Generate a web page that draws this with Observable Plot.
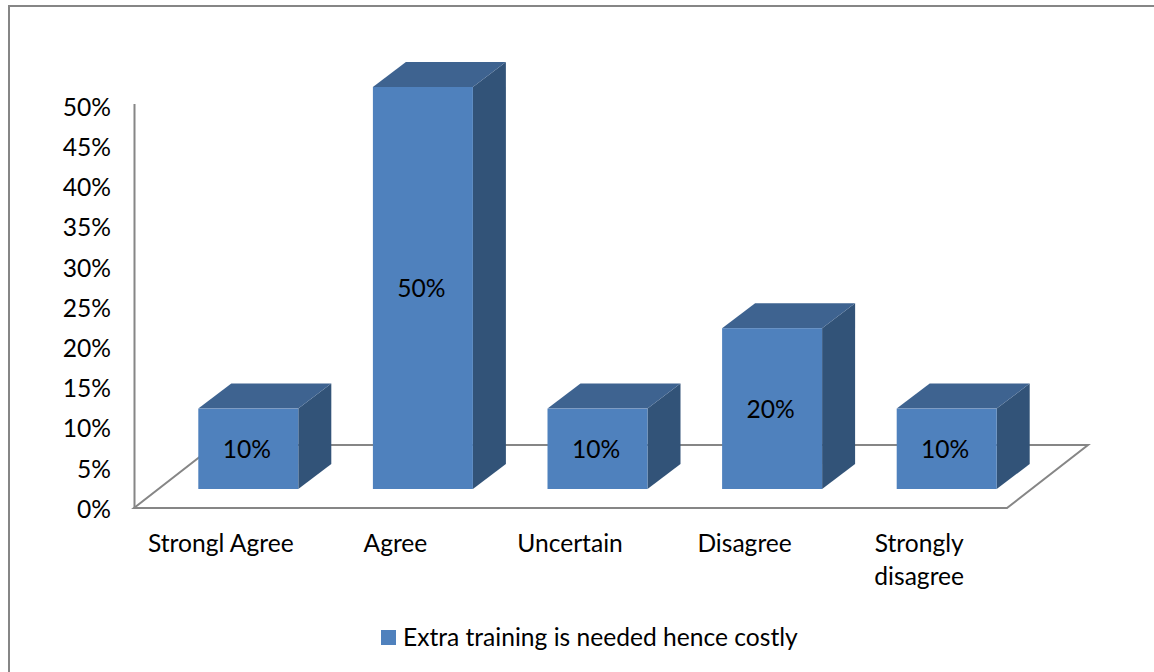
<!DOCTYPE html>
<html>
<head>
<meta charset="utf-8">
<script src="https://cdn.jsdelivr.net/npm/d3@7"></script>
<script src="https://cdn.jsdelivr.net/npm/@observablehq/plot@0.6"></script>
<style>
  html, body { margin: 0; padding: 0; background: #fff; overflow: hidden; }
  body { width: 1154px; height: 672px; position: relative; font-family: Lato, sans-serif; color: #000; }
  #frame { position: absolute; left: 8px; top: 5px; width: 1146px; height: 667px; border-left: 2px solid #868686; border-top: 2px solid #868686; box-sizing: border-box; pointer-events: none; }
  #legend { position: absolute; left: 381px; top: 614px; height: 44px; display: flex; align-items: center; font-size: 24.6px; white-space: nowrap; }
  #legend i { display: block; width: 15px; height: 15px; background: #4F81BD; margin-right: 7px; margin-top: 2px; }
  #chart svg { display: block; }
</style>
</head>
<body>
<div id="chart"></div>
<div id="legend"><i></i><span>Extra training is needed hence costly</span></div>
<div id="frame"></div>
<script>
const categories = ["Strongl Agree", "Agree", "Uncertain", "Disagree", "Strongly\ndisagree"];
const values = [0.10, 0.50, 0.10, 0.20, 0.10];
const yTicks = [0, 0.05, 0.10, 0.15, 0.20, 0.25, 0.30, 0.35, 0.40, 0.45, 0.50];
const seriesName = "Extra training is needed hence costly";

const rows = categories.map((category, i) => ({category, value: values[i]}));

const font = "Lato, sans-serif";
const fontSize = 24.6;
const barWidth = 100;
const shift = {x: 27, y: -19};     // bar position inside the floor
const depth = {x: 33, y: -25};     // bar depth
const floorDepth = {x: 81, y: -63};

function poly(parent, pts, fill, stroke, sw) {
  const p = document.createElementNS("http://www.w3.org/2000/svg", "polygon");
  p.setAttribute("points", pts.map(d => d.join(",")).join(" "));
  p.setAttribute("fill", fill);
  if (stroke) { p.setAttribute("stroke", stroke); p.setAttribute("stroke-width", sw); p.setAttribute("stroke-linejoin", "miter"); }
  parent.appendChild(p);
}

// Floor parallelogram, placed with the chart's scales
function floorMark(index, {x, y}) {
  const g = document.createElementNS("http://www.w3.org/2000/svg", "g");
  const [x0, x1] = x.range();
  const y0 = y(0);
  poly(g, [[x0, y0], [x1, y0], [x1 + floorDepth.x, y0 + floorDepth.y], [x0 + floorDepth.x, y0 + floorDepth.y]], "none", "#868686", 2);
  return g;
}

// Side and top faces of every bar, from the same scales as the front faces
function sidesMark(index, {x, y}) {
  const g = document.createElementNS("http://www.w3.org/2000/svg", "g");
  for (const d of rows) {
    const cx = x(d.category) + x.bandwidth() / 2 + shift.x;
    const l = cx - barWidth / 2, r = cx + barWidth / 2;
    const t = y(d.value) + shift.y, b = y(0) + shift.y;
    poly(g, [[r, t], [r + depth.x, t + depth.y], [r + depth.x, b + depth.y], [r, b]], "#325378");
    poly(g, [[l, t], [r, t], [r + depth.x, t + depth.y], [l + depth.x, t + depth.y]], "#3E6390");
  }
  return g;
}

const plot = Plot.plot({
  width: 1154,
  height: 615,
  marginLeft: 134,
  marginRight: 147,
  marginTop: 106,
  marginBottom: 107,
  style: {fontFamily: font, fontSize: fontSize + "px", color: "#000", background: "transparent"},
  x: {type: "band", domain: categories, padding: 0, round: false, label: null},
  y: {domain: [0, 0.5], label: null},
  marks: [
    floorMark,
    Plot.ruleX([0], {x: () => categories[0], dx: -87.3, y1: 0, y2: 0.5025, stroke: "#868686", strokeWidth: 2}),
    sidesMark,
    Plot.barY(rows, {
      x: "category", y: "value", fill: "#4F81BD",
      insetLeft: 37.3, insetRight: 37.3,
      dx: shift.x, dy: shift.y
    }),
    Plot.text(rows, {
      x: "category", y: d => d.value / 2, text: d => d3.format(".0%")(d.value),
      dx: shift.x - 2, dy: shift.y + 1, fill: "#000", fontSize
    }),
    Plot.axisY({
      ticks: yTicks, tickFormat: d3.format(".0%"), tickSize: 0, tickPadding: 23.5, dy: 1.5,
      fontSize, label: null, fill: "#000"
    }),
    Plot.axisX({
      tickSize: 0, tickPadding: 20, dx: -1, fontSize, label: null, fill: "#000", lineHeight: 1.35
    })
  ]
});
document.getElementById("chart").appendChild(plot);
</script>
</body>
</html>
